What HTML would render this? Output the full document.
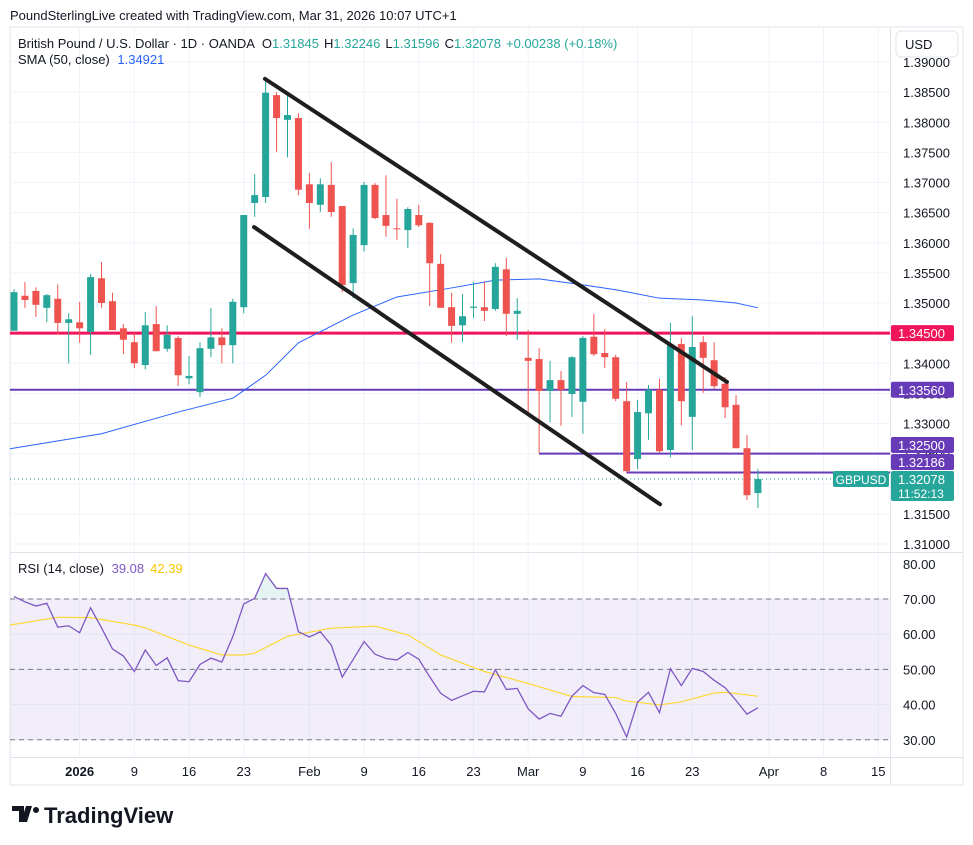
<!DOCTYPE html>
<html><head><meta charset="utf-8">
<style>
html,body{margin:0;padding:0;background:#fff;width:973px;height:845px;overflow:hidden}
svg{display:block;font-family:"Liberation Sans",sans-serif}
</style></head>
<body>
<svg id="chart" width="973" height="845" viewBox="0 0 973 845" xmlns="http://www.w3.org/2000/svg">
<defs>
<clipPath id="pclip"><rect x="10" y="28" width="880" height="524"/></clipPath>
<clipPath id="rclip"><rect x="10" y="553" width="880" height="204"/></clipPath>
<clipPath id="obclip"><rect x="10" y="553" width="880" height="46"/></clipPath>
</defs>
<text x="10" y="20" font-size="13" fill="#131722">PoundSterlingLive created with TradingView.com, Mar 31, 2026 10:07 UTC+1</text>
<rect x="10" y="27" width="953" height="758" fill="none" stroke="#e0e3eb"/>
<g id="grid"></g>
<g id="rsi"></g>
<g id="price" clip-path="url(#pclip)"></g>
<line x1="10" y1="552.5" x2="963" y2="552.5" stroke="#e0e3eb"/>
<line x1="10" y1="757.5" x2="963" y2="757.5" stroke="#e0e3eb"/>
<line x1="890.5" y1="27" x2="890.5" y2="785" stroke="#e0e3eb"/>
<g id="axes"></g>
<g font-size="13">
<text x="18" y="48" fill="#131722">British Pound / U.S. Dollar · 1D · OANDA <tspan dx="4">O</tspan><tspan fill="#26a69a">1.31845</tspan><tspan dx="5">H</tspan><tspan fill="#26a69a">1.32246</tspan><tspan dx="5">L</tspan><tspan fill="#26a69a">1.31596</tspan><tspan dx="5">C</tspan><tspan fill="#26a69a">1.32078</tspan><tspan dx="5" fill="#26a69a">+0.00238 (+0.18%)</tspan></text>
<text x="18" y="64" fill="#131722">SMA (50, close) <tspan dx="4" fill="#2962ff">1.34921</tspan></text>
<text x="18" y="573" fill="#131722">RSI (14, close) <tspan dx="4" fill="#7e57c2">39.08</tspan><tspan dx="6" fill="#f7c600">42.39</tspan></text>
</g>
<g>
<rect x="896" y="31" width="62" height="26" rx="5" fill="#fff" stroke="#e0e3eb"/>
<text x="905" y="49" font-size="13" fill="#131722">USD</text>
</g>
<g>
<path d="M12 806h12v16h-5v-11h-7z M26 806 h6 l-5 16 h-6z" fill="#131722"/>
<circle cx="36" cy="810" r="3" fill="#131722"/>
<text x="44" y="823" font-size="22" font-weight="bold" fill="#131722">TradingView</text>
</g>
</svg>
<script>
// ---- data ----
const opens  = [1.3454,1.3512,1.3520,1.3492,1.3507,1.3467,1.3468,1.3452,1.3541,1.3503,1.3458,1.3435,1.3397,1.3465,1.3424,1.3442,1.3375,1.3352,1.3424,1.3443,1.3430,1.3493,1.3666,1.3676,1.3845,1.3804,1.3807,1.3697,1.3663,1.3696,1.3661,1.3533,1.3596,1.3696,1.3646,1.3624,1.3621,1.3646,1.3633,1.3565,1.3493,1.3463,1.3492,1.3493,1.3490,1.3556,1.3482,1.3409,1.3407,1.3354,1.3372,1.3349,1.3336,1.3444,1.3417,1.3410,1.3337,1.3241,1.3317,1.3356,1.3256,1.3432,1.3311,1.3435,1.3405,1.3366,1.3331,1.3259,1.31845];
const highs  = [1.3523,1.3535,1.3526,1.3515,1.3531,1.3483,1.3502,1.3548,1.3568,1.3517,1.3465,1.3450,1.3485,1.3495,1.3463,1.3445,1.3412,1.3435,1.3492,1.3458,1.3507,1.3646,1.3714,1.3870,1.3850,1.3849,1.3815,1.3716,1.3707,1.3734,1.3661,1.3624,1.3701,1.3699,1.3712,1.3673,1.3659,1.3663,1.3634,1.3581,1.3517,1.3515,1.3535,1.3536,1.3566,1.3575,1.3508,1.3455,1.3425,1.3404,1.3387,1.3412,1.3445,1.3482,1.3457,1.3414,1.3369,1.3339,1.3364,1.3374,1.3467,1.3442,1.3478,1.3445,1.3435,1.3377,1.3347,1.3281,1.32246];
const lows   = [1.3454,1.3492,1.3477,1.3468,1.3448,1.3400,1.3434,1.3414,1.3492,1.3455,1.3415,1.3392,1.3390,1.3420,1.3419,1.3362,1.3365,1.3344,1.3410,1.3400,1.3400,1.3483,1.3643,1.3666,1.3751,1.3742,1.3679,1.3623,1.3651,1.3643,1.3518,1.3508,1.3586,1.3639,1.3610,1.3605,1.3591,1.3626,1.3495,1.3492,1.3434,1.3435,1.3475,1.3470,1.3487,1.3445,1.3439,1.3314,1.3251,1.3302,1.3296,1.3311,1.3283,1.3412,1.3392,1.3337,1.3218,1.3224,1.3273,1.3251,1.3244,1.3297,1.3256,1.3351,1.3357,1.3309,1.3259,1.3173,1.31596];
const closes = [1.3518,1.3505,1.3497,1.3513,1.3467,1.3473,1.3458,1.3543,1.3500,1.3455,1.3439,1.3400,1.3463,1.3420,1.3447,1.3380,1.3379,1.3425,1.3443,1.3430,1.3502,1.3646,1.3679,1.3849,1.3807,1.3812,1.3688,1.3666,1.3697,1.3651,1.3530,1.3613,1.3696,1.3641,1.3628,1.3623,1.3656,1.3629,1.3566,1.3492,1.3462,1.3478,1.3494,1.3487,1.3560,1.3482,1.3487,1.3404,1.3354,1.3372,1.3356,1.3410,1.3442,1.3415,1.3410,1.3341,1.3221,1.3319,1.3356,1.3254,1.3430,1.3337,1.3427,1.3409,1.3362,1.3327,1.3259,1.3181,1.32078];
const smaIdx = [-0.4,8,15,20,23,26,31,35,40,44,48,52,55,59,63,66,68];
const smaVal = [1.3258,1.3283,1.3319,1.3342,1.3380,1.3434,1.3480,1.3510,1.3525,1.3538,1.3540,1.3530,1.3522,1.3508,1.3505,1.3500,1.3492];
const rsiVal = [70.7,69.2,68.0,68.8,62.0,62.4,60.4,67.5,61.8,55.8,53.8,49.4,55.5,51.1,53.3,46.8,46.5,51.4,53.2,52.1,59.3,68.6,70.2,77.2,73.0,73.0,60.7,59.2,60.7,56.9,47.8,52.8,57.9,54.3,53.1,52.7,54.8,52.9,47.9,43.2,41.2,42.5,43.8,43.6,49.9,44.3,44.6,38.8,35.9,37.5,36.7,42.4,45.4,43.4,42.9,37.5,30.8,40.7,43.5,37.7,50.2,45.4,50.3,49.4,46.9,44.8,41.2,37.3,39.08];
const rsiMaIdx = [-0.4,4,7,11,12,16,19,21,22,25,29,33,36,39,43,47,51,55,56,59,61,64,65,68];
const rsiMaVal = [62.6,64.8,64.7,62.6,61.8,56.9,54.1,54.1,54.6,59.4,61.7,62.3,59.8,54.1,49.4,46.0,42.3,42.0,41.0,39.9,40.8,43.3,43.5,42.39];
const priceTicks = [1.39,1.385,1.38,1.375,1.37,1.365,1.36,1.355,1.35,1.345,1.34,1.335,1.33,1.325,1.32,1.315,1.31];
const rsiTicks = [80,70,60,50,40,30];
const timeIdx = [6,11,16,21,27,32,37,42,47,52,57,62,69,74,79];
const timeLabels = ["2026","9","16","23","Feb","9","16","23","Mar","9","16","23","Apr","8","15"];
const hLevels = [1.3450,1.3356,1.3250,1.32186];
const hStartIdx = [-2,-2,48,56];
const hColors = ["#f0145a","#673ab7","#673ab7","#673ab7"];
const hWidths = [3,2,2,2];
const trendStartIdx = [22.94,21.94];
const trendStartVal = [1.3872,1.3626];
const trendEndIdx = [65.17,59.05];
const trendEndVal = [1.3369,1.3166];
const lastPrice = 1.32078;

// ---- scales ----
const NS="http://www.w3.org/2000/svg";
const xOf = i => 14 + i*10.94;
const yP = p => 62 + (1.39 - p)*6025;
const yR = v => 599 + (70 - v)*3.52;
function mk(tag, attrs, parent){const e=document.createElementNS(NS,tag);for(const k in attrs)e.setAttribute(k,attrs[k]);parent.appendChild(e);return e;}
const grid=document.getElementById('grid'), price=document.getElementById('price'), rsi=document.getElementById('rsi'), axes=document.getElementById('axes');

// grid
priceTicks.forEach(p=>{const l=mk('line',{x1:10,x2:890,y1:yP(p),y2:yP(p),stroke:'#f0f3fa'},grid);

});
rsiTicks.forEach(v=>{if(v===80)return;const l=mk('line',{x1:10,x2:890,y1:yR(v),y2:yR(v),stroke:'#f0f3fa'},grid);

});
timeIdx.forEach(i=>{const l=mk('line',{x1:xOf(i),x2:xOf(i),y1:28,y2:757,stroke:'#f0f3fa'},grid);

});

// horizontal levels
hLevels.forEach((p,k)=>{const l=mk('line',{x1:Math.max(10,xOf(hStartIdx[k])),x2:890,y1:yP(p),y2:yP(p),stroke:hColors[k],'stroke-width':hWidths[k]},price);

});
const lp=mk('line',{x1:10,x2:890,y1:yP(lastPrice),y2:yP(lastPrice),stroke:'#26a69a','stroke-dasharray':'1 3'},price);



// SMA
const smaPath=mk('polyline',{points:smaIdx.map((i,k)=>xOf(i)+','+yP(smaVal[k])).join(' '),fill:'none',stroke:'#2962ff','stroke-width':1},price);



// candles
opens.forEach((o,i)=>{const c=closes[i],h=highs[i],lo=lows[i];const up=c>=o;const col=up?'#26a69a':'#ef5350';const x=xOf(i);
const g=mk('g',{},price);


mk('line',{x1:x,x2:x,y1:yP(h),y2:yP(lo),stroke:col,'stroke-width':1},g);
const top=yP(Math.max(o,c)),bot=yP(Math.min(o,c));
mk('rect',{x:x-3.5,y:top,width:7,height:Math.max(1,bot-top),fill:col},g);});

// trendlines
trendStartIdx.forEach((s,k)=>{const l=mk('line',{x1:xOf(s),y1:yP(trendStartVal[k]),x2:xOf(trendEndIdx[k]),y2:yP(trendEndVal[k]),stroke:'#1e1e1e','stroke-width':4,'stroke-linecap':'round'},price);

});

// RSI pane
const band=mk('rect',{x:10,y:yR(70),width:880,height:yR(30)-yR(70),fill:'#7e57c2','fill-opacity':0.1},rsi);


[70,50,30].forEach(v=>{const l=mk('line',{x1:10,x2:890,y1:yR(v),y2:yR(v),stroke:'#787b86','stroke-dasharray':'5 4'},rsi);

});
const rg=mk('g',{'clip-path':'url(#rclip)'},rsi);
const pts=rsiVal.map((v,i)=>xOf(i)+','+yR(v));
const ob=mk('polygon',{points:xOf(0)+','+yR(70)+' '+pts.join(' ')+' '+xOf(rsiVal.length-1)+','+yR(70),fill:'#26a69a','fill-opacity':0.12,'clip-path':'url(#obclip)'},rg);


const rma=mk('polyline',{points:rsiMaIdx.map((i,k)=>xOf(i)+','+yR(rsiMaVal[k])).join(' '),fill:'none',stroke:'#fdd835','stroke-width':1.2},rg);


const rl=mk('polyline',{points:pts.join(' '),fill:'none',stroke:'#7e57c2','stroke-width':1.3},rg);



// axes labels
priceTicks.forEach(p=>{const t=mk('text',{x:903,y:yP(p)+5,'font-size':13,fill:'#131722'},axes);t.textContent=p.toFixed(5);

});
rsiTicks.forEach(v=>{const t=mk('text',{x:903,y:yR(v)+5,'font-size':13,fill:'#131722'},axes);t.textContent=v.toFixed(2);

});
timeIdx.forEach((i,k)=>{const t=mk('text',{x:xOf(i),y:776,'font-size':13,fill:'#131722','text-anchor':'middle','font-weight':k===0?'bold':'normal'},axes);t.textContent=timeLabels[k];

});

// price badges (stacked to avoid overlap with last-price badge)
const ly=yP(lastPrice);
let prevTop=ly-8;
const badgeYs=hLevels.map(p=>yP(p));
for(let k=hLevels.length-1;k>=0;k--){let y=badgeYs[k];if(y+8>prevTop-1){y=prevTop-1-8;}badgeYs[k]=y;prevTop=y-8;}
hLevels.forEach((p,k)=>{const g=mk('g',{},axes);


const y=badgeYs[k];mk('rect',{x:891,y:y-8,width:63,height:16,rx:2,fill:hColors[k]},g);
const t=mk('text',{x:898,y:y+5,'font-size':13,fill:'#fff'},g);t.textContent=p.toFixed(5);});
const lb=mk('g',{},axes);


mk('rect',{x:891,y:ly-8,width:63,height:30,rx:2,fill:'#26a69a'},lb);
let t1=mk('text',{x:898,y:ly+5,'font-size':13,fill:'#fff'},lb);t1.textContent=lastPrice.toFixed(5);
let t2=mk('text',{x:898,y:ly+19,'font-size':12,fill:'#fff'},lb);t2.textContent='11:52:13';
const sb=mk('g',{},axes);


mk('rect',{x:833,y:ly-8,width:56,height:16,rx:2,fill:'#26a69a'},sb);
let t3=mk('text',{x:861,y:ly+5,'font-size':12,fill:'#fff','text-anchor':'middle'},sb);t3.textContent='GBPUSD';
</script>
</body></html>
